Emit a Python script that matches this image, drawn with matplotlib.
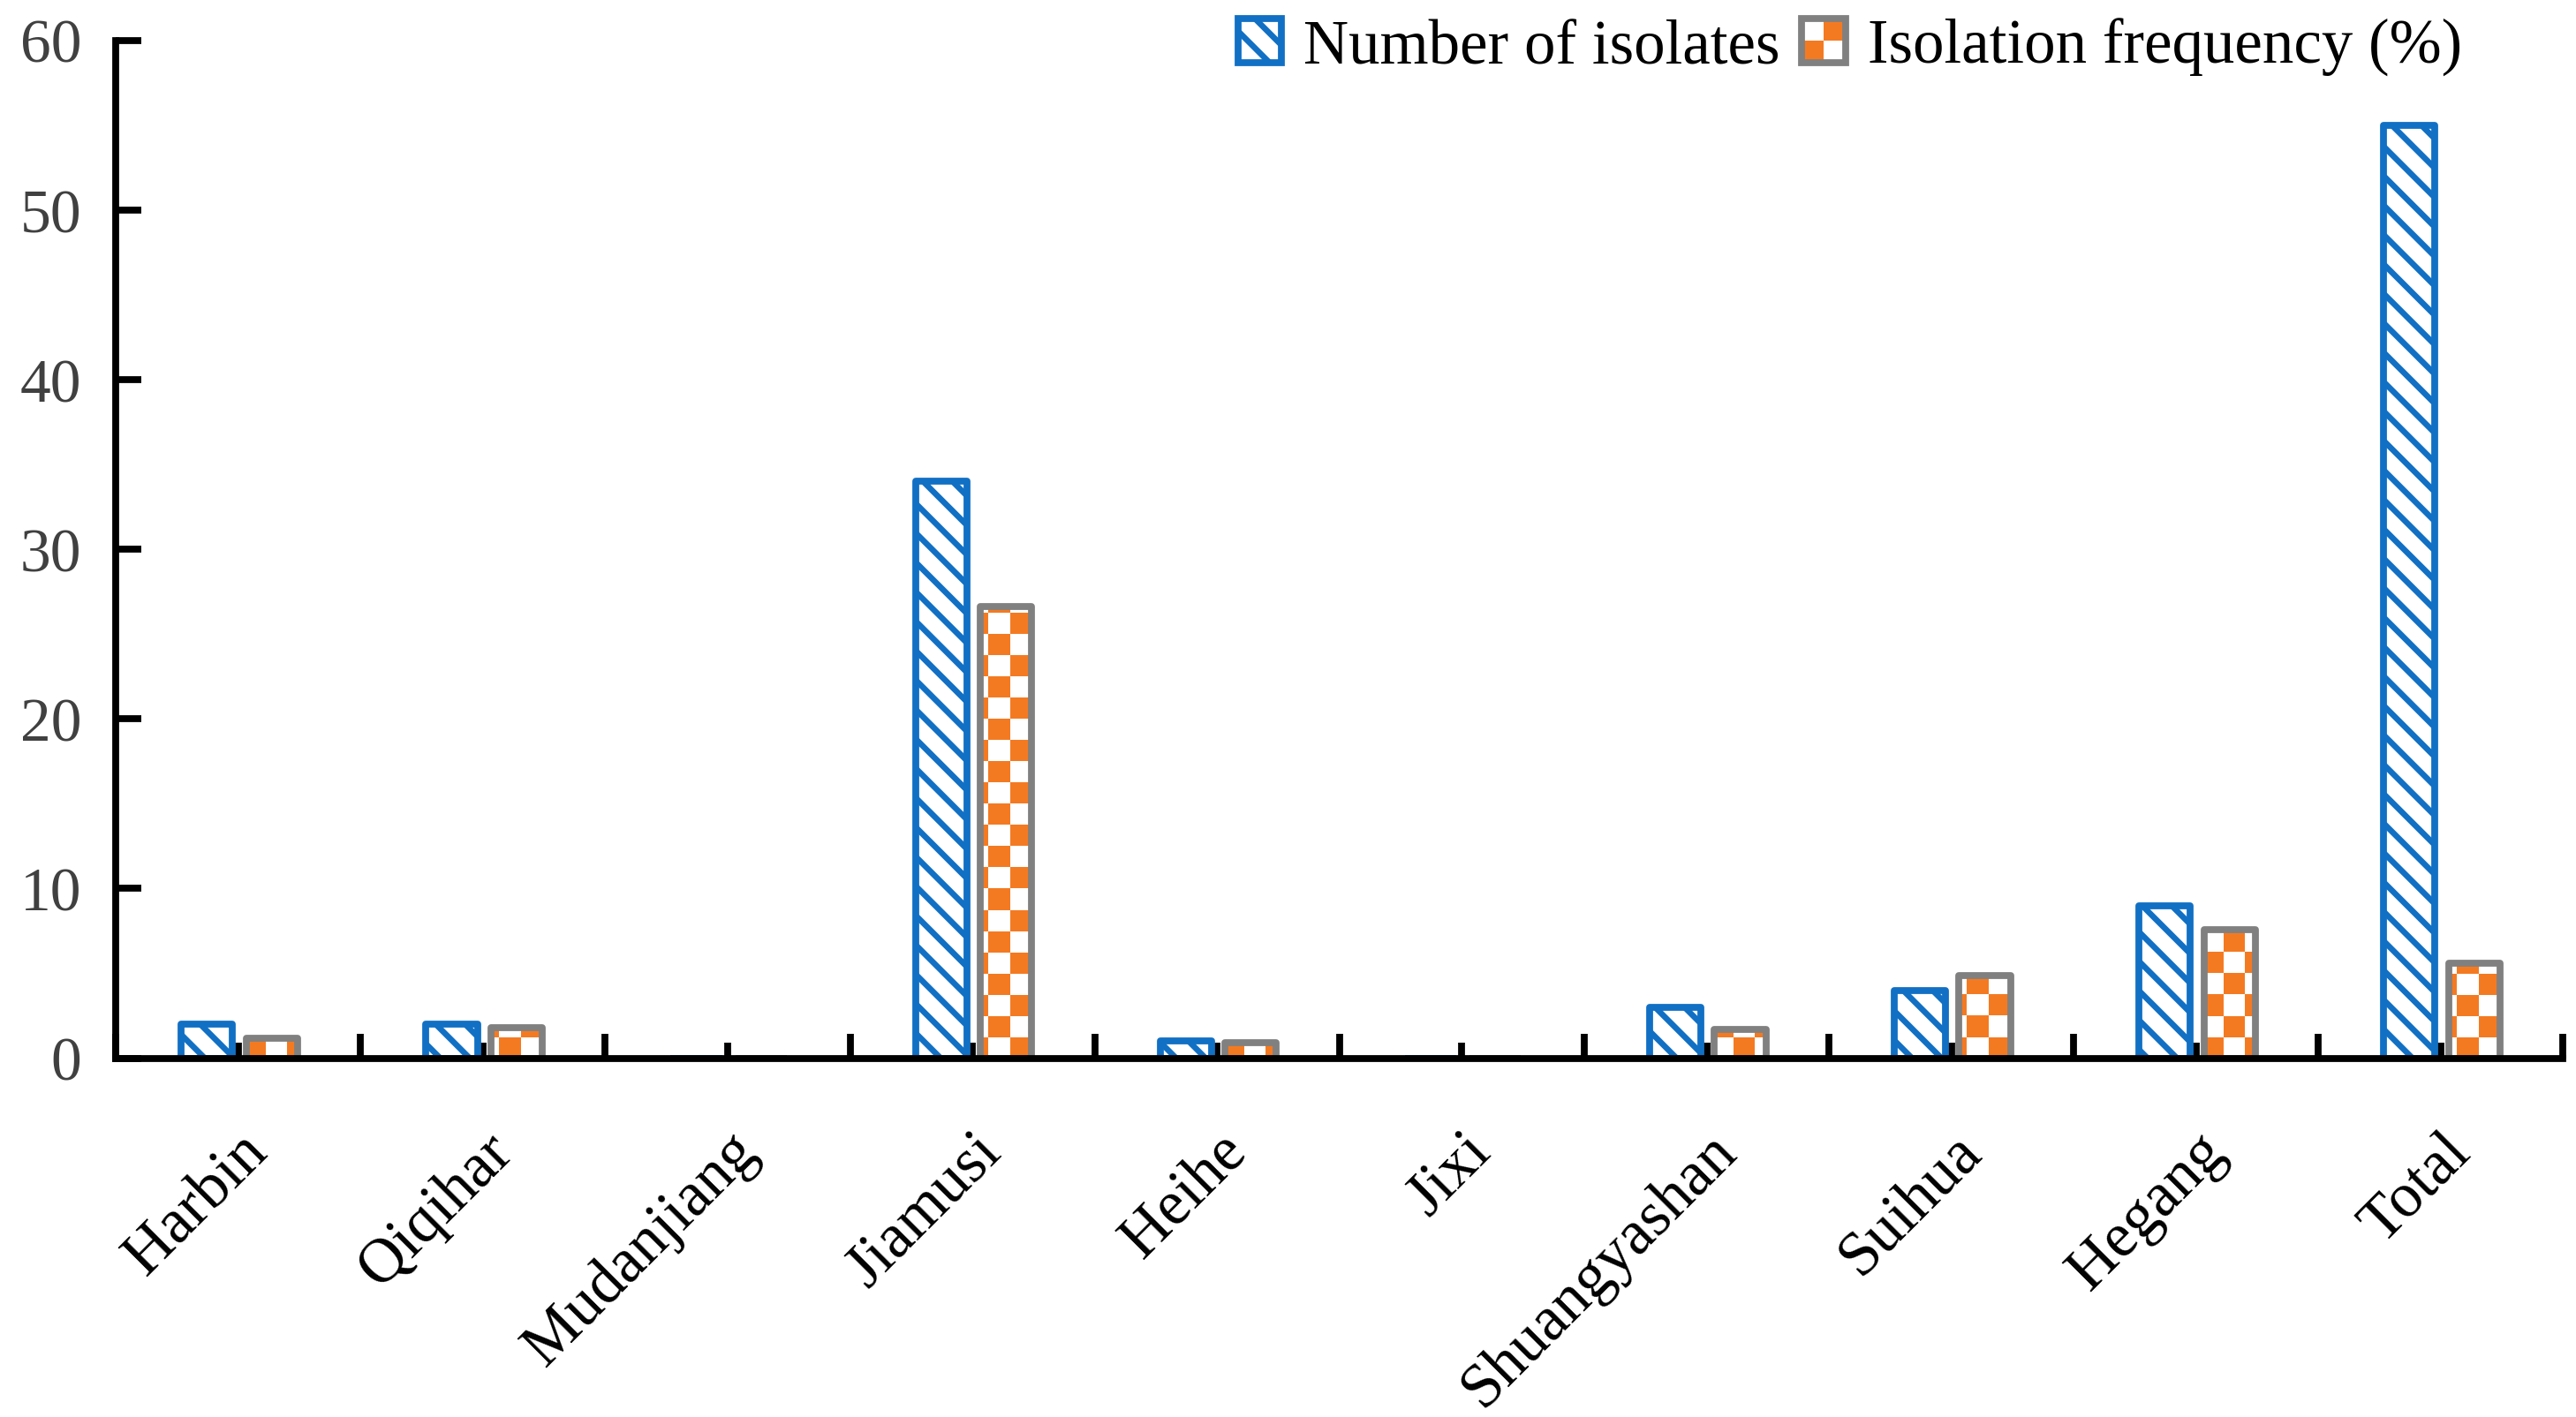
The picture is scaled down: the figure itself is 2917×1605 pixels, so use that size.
import numpy as np
import matplotlib
matplotlib.use("Agg")
from matplotlib import pyplot as plt
from matplotlib.colors import ListedColormap
from matplotlib.patches import Rectangle, Patch
from matplotlib.legend_handler import HandlerBase
from matplotlib.ticker import FixedLocator, NullFormatter

cities = ["Harbin", "Qiqihar", "Mudanjiang", "Jiamusi", "Heihe", "Jixi",
          "Shuangyashan", "Suihua", "Hegang", "Total"]
n_isolates = [2, 2, 0, 34, 1, 0, 3, 4, 9, 55]
iso_freq = [1.2, 1.8, 0, 26.6, 0.9, 0, 1.7, 4.9, 7.6, 5.6]
y_ticks = [0, 10, 20, 30, 40, 50, 60]

blue = "#1170C4"
orange = "#F47A22"
grey = "#808080"

plt.rcParams["font.family"] = ["Liberation Serif", "DejaVu Serif"]
plt.rcParams["hatch.linewidth"] = 2.4

DPI = 200
fig = plt.figure(figsize=(2917 / DPI, 1606 / DPI), dpi=DPI)
ax = fig.add_axes([0.045, 0.253, 0.950, 0.718])

x = np.arange(len(cities)) + 0.5
w = 0.21
edge_lw = 2.8

b1 = ax.bar(x - 0.128, n_isolates, w, facecolor="white", edgecolor=blue,
            hatch="\\\\", linewidth=edge_lw, joinstyle="round", zorder=3)
b2 = ax.bar(x + 0.137, iso_freq, w, facecolor="none", edgecolor=grey,
            linewidth=edge_lw, joinstyle="round", zorder=3)

# checkerboard fill for the frequency bars: an image clipped to each bar
cell_px = 24
ax_w = fig.get_figwidth() * DPI * 0.950
ax_h = fig.get_figheight() * DPI * 0.718
nx, ny = int(ax_w / cell_px), int(ax_h / cell_px)
checker = np.add.outer(np.arange(ny), np.arange(nx)) % 2
cmap = ListedColormap(["white", orange])
for bar in b2:
    if bar.get_height() <= 0:
        continue
    im = ax.imshow(checker, cmap=cmap, extent=(0, 1, 0, 1), transform=ax.transAxes,
                   aspect="auto", interpolation="nearest", zorder=2)
    im.set_clip_path(bar)

ax.set_xlim(0, len(cities))
ax.set_ylim(0, 60)

for side in ["top", "right"]:
    ax.spines[side].set_visible(False)
for side in ["left", "bottom"]:
    ax.spines[side].set_linewidth(2.8)
    ax.spines[side].set_zorder(5)

ax.set_yticks(y_ticks)
ax.tick_params(axis="y", direction="in", length=10.5, width=2.8, pad=14,
               labelsize=25, labelcolor="#404040")

ax.xaxis.set_major_locator(FixedLocator(np.arange(len(cities) + 1)))
ax.xaxis.set_major_formatter(NullFormatter())
ax.xaxis.set_minor_locator(FixedLocator(x))
ax.set_xticklabels(cities, minor=True)
ax.tick_params(axis="x", which="major", direction="in", length=10, width=2.8)
ax.tick_params(axis="x", which="minor", direction="in", length=6.5, width=2.8,
               pad=26, labelsize=25.5)
for lbl in ax.get_xticklabels(minor=True):
    lbl.set_rotation(45)
    lbl.set_ha("right")
    lbl.set_rotation_mode("anchor")


class CheckerHandler(HandlerBase):
    def create_artists(self, legend, orig_handle, xdescent, ydescent, width,
                       height, fontsize, trans):
        x0, y0 = -xdescent, -ydescent
        hw, hh = width / 2, height / 2
        arts = [
            Rectangle((x0, y0), width, height, facecolor="white", edgecolor="none", transform=trans),
            Rectangle((x0, y0), hw, hh, facecolor=orange, edgecolor="none", transform=trans),
            Rectangle((x0 + hw, y0 + hh), hw, hh, facecolor=orange, edgecolor="none", transform=trans),
            Rectangle((x0, y0), width, height, facecolor="none", edgecolor=grey,
                      linewidth=edge_lw, transform=trans),
        ]
        return arts


freq_proxy = Patch()
fig.legend([b1, freq_proxy], ["Number of isolates", "Isolation frequency (%)"],
           handler_map={freq_proxy: CheckerHandler()},
           loc="upper right", bbox_to_anchor=(0.963, 1.0), ncol=2, frameon=False,
           fontsize=25.5, handlelength=0.7, handleheight=0.7, handletextpad=0.35,
           columnspacing=0.35, borderaxespad=0.1, borderpad=0.2)

fig.savefig("out.png", dpi=DPI)
